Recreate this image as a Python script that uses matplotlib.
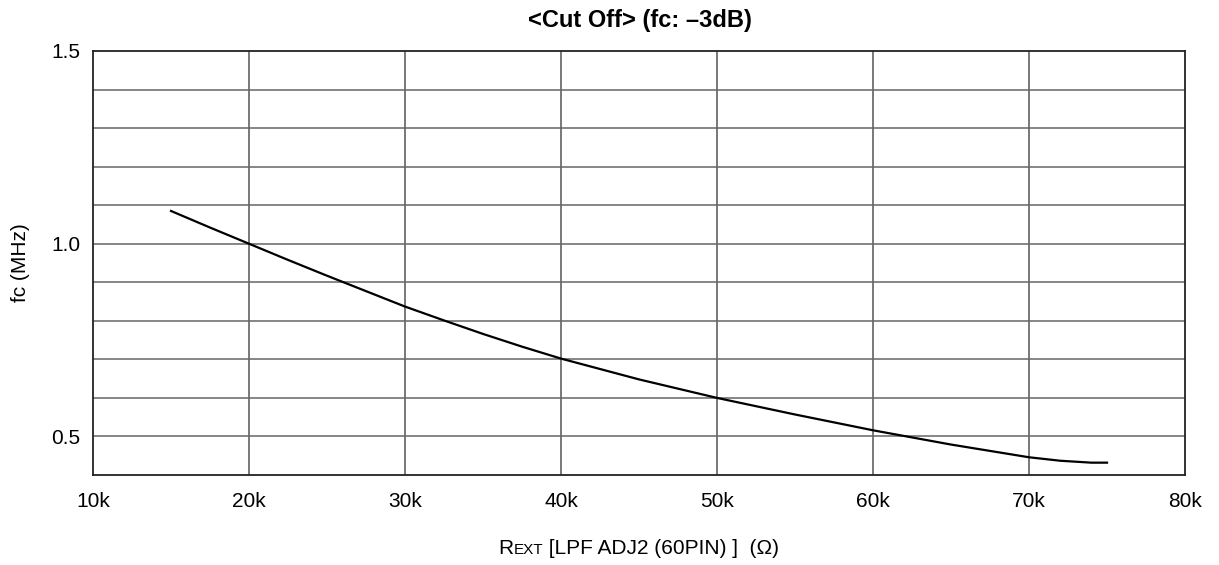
import matplotlib
matplotlib.use("Agg")
import matplotlib.pyplot as plt
from matplotlib.offsetbox import TextArea, HPacker, AnchoredOffsetbox

plt.rcParams['font.family'] = ['Liberation Sans', 'DejaVu Sans']

# Data
rext_k = [15, 17.5, 20, 22.5, 25, 27.5, 30, 32.5, 35, 37.5, 40, 45, 50, 55, 60, 65, 70, 72, 74, 75]
fc_mhz = [1.085, 1.042, 1.000, 0.958, 0.917, 0.877, 0.837, 0.801, 0.766, 0.733, 0.702,
          0.648, 0.600, 0.557, 0.516, 0.479, 0.446, 0.437, 0.432, 0.432]

x_ticks = [10, 20, 30, 40, 50, 60, 70, 80]
x_tick_labels = ["10k", "20k", "30k", "40k", "50k", "60k", "70k", "80k"]
y_ticks = [0.5, 1.0, 1.5]
y_tick_labels = ["0.5", "1.0", "1.5"]
y_grid = [0.5, 0.6, 0.7, 0.8, 0.9, 1.0, 1.1, 1.2, 1.3, 1.4]

W, H = 1219, 565
fig = plt.figure(figsize=(W / 100, H / 100), dpi=100)
ax = fig.add_axes([93 / W, 1 - 475 / H, (1185 - 93) / W, (475 - 51) / H])

ax.set_xlim(10, 80)
ax.set_ylim(0.4, 1.5)

for xv in x_ticks[1:-1]:
    ax.axvline(xv, color='#555555', lw=1.1, zorder=1)
for yv in y_grid:
    ax.axhline(yv, color='#666666', lw=1.1, zorder=1)

ax.plot(rext_k, fc_mhz, color='black', lw=1.6, zorder=3)

ax.set_xticks(x_ticks)
ax.set_xticklabels(x_tick_labels, fontsize=15)
ax.set_yticks(y_ticks)
ax.set_yticklabels(y_tick_labels, fontsize=15)
ax.tick_params(axis='both', length=0)
ax.tick_params(axis='y', pad=9)
ax.tick_params(axis='x', pad=12)
for s in ax.spines.values():
    s.set_color('#222222')
    s.set_linewidth(1.3)

fig.text(640 / W, 1 - 20 / H, "<Cut Off> (fc: \u20133dB)", ha='center', va='center',
         fontsize=17, fontweight='bold')

fig.text(21 / W, 1 - 263 / H, "fc (MHz)", rotation=90, ha='center', va='center',
         fontsize=15)

# x label with small-caps "EXT"
parts = [TextArea("R", textprops=dict(fontsize=15)),
         TextArea("EXT", textprops=dict(fontsize=11)),
         TextArea(" [LPF ADJ2 (60PIN) ]  (\u03a9)", textprops=dict(fontsize=15))]
box = HPacker(children=parts, align="baseline", pad=0, sep=0)
anch = AnchoredOffsetbox(loc='center', child=box, frameon=False,
                         bbox_to_anchor=(639 / W, 1 - 548 / H),
                         bbox_transform=fig.transFigure, borderpad=0, pad=0)
fig.add_artist(anch)

fig.savefig("out.png", dpi=100)
